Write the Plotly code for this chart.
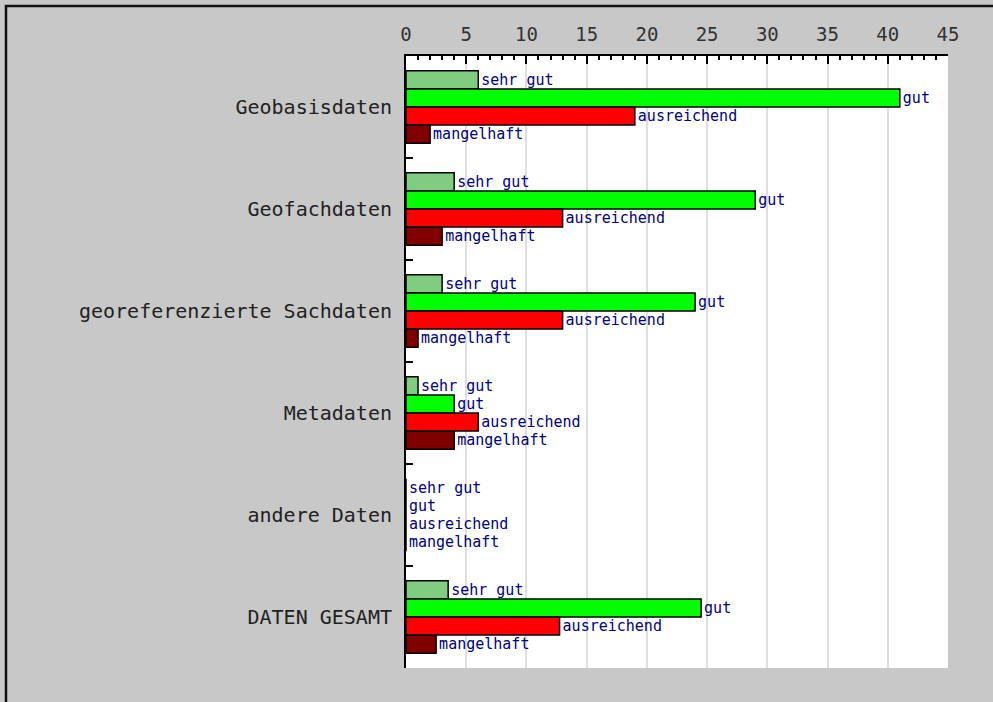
import plotly.graph_objects as go

categories = [
    "Geobasisdaten",
    "Geofachdaten",
    "georeferenzierte Sachdaten",
    "Metadaten",
    "andere Daten",
    "DATEN GESAMT",
]
ratings = ["sehr gut", "gut", "ausreichend", "mangelhaft"]
sehr_gut = [6, 4, 3, 1, 0, 3.5]
gut = [41, 29, 24, 4, 0, 24.5]
ausreichend = [19, 13, 13, 6, 0, 12.75]
mangelhaft = [2, 3, 1, 4, 0, 2.5]
x_ticks = [0, 5, 10, 15, 20, 25, 30, 35, 40, 45]

series = [sehr_gut, gut, ausreichend, mangelhaft]
colors = ["#80cc80", "#00ff00", "#ff0000", "#800000"]

W, H = 993, 702
L, R, T, B = 406, 45, 56, 34

fig = go.Figure()

for name, vals, col in zip(ratings, series, colors):
    fig.add_trace(
        go.Bar(
            y=categories,
            x=vals,
            orientation="h",
            name=name,
            text=[name] * len(vals),
            textposition="outside",
            textfont=dict(family="DejaVu Sans Mono", size=15, color="#000080"),
            cliponaxis=False,
            marker=dict(color=col, line=dict(color="black", width=1.5)),
        )
    )

# outer frame (only top and left edges show in the original)
pw = W - L - R
ph = H - T - B
fig.add_shape(
    type="rect",
    xref="paper", yref="paper",
    x0=(6 - L) / pw, x1=(W + 20 - L) / pw,
    y0=-(H + 20 - T - ph) / ph, y1=1 + (T - 6) / ph,
    line=dict(color="#111111", width=2.5),
    layer="below",
)

fig.update_layout(
    width=W,
    height=H,
    barmode="group",
    bargap=0.29,
    bargroupgap=0,
    showlegend=False,
    paper_bgcolor="#c8c8c8",
    plot_bgcolor="white",
    margin=dict(l=L, r=R, t=T, b=B, pad=0),
    font=dict(family="DejaVu Sans Mono", color="#222222"),
    xaxis=dict(
        side="top",
        range=[0, 45],
        tickvals=x_ticks,
        ticks="inside",
        ticklen=8,
        tickwidth=2,
        tickcolor="black",
        minor=dict(dtick=1, ticks="inside", ticklen=4, tickwidth=1.5, tickcolor="black", showgrid=False),
        showline=True,
        linecolor="black",
        linewidth=2,
        showgrid=True,
        gridcolor="#dedede",
        gridwidth=2,
        zeroline=False,
        tickfont=dict(family="DejaVu Sans Mono", size=19, color="#333333"),
        ticklabelstandoff=5,
        automargin=False,
        fixedrange=True,
    ),
    yaxis=dict(
        autorange="reversed",
        tickson="boundaries",
        ticks="inside",
        ticklen=7,
        tickwidth=2,
        tickcolor="black",
        showline=True,
        linecolor="black",
        linewidth=2,
        showgrid=False,
        zeroline=False,
        tickfont=dict(family="DejaVu Sans Mono", size=20, color="#222222"),
        ticklabelstandoff=8,
        automargin=False,
        fixedrange=True,
    ),
)

fig.write_html(
    "out.html",
    config={"displayModeBar": False},
    post_script="document.body.style.margin='0';",
)
